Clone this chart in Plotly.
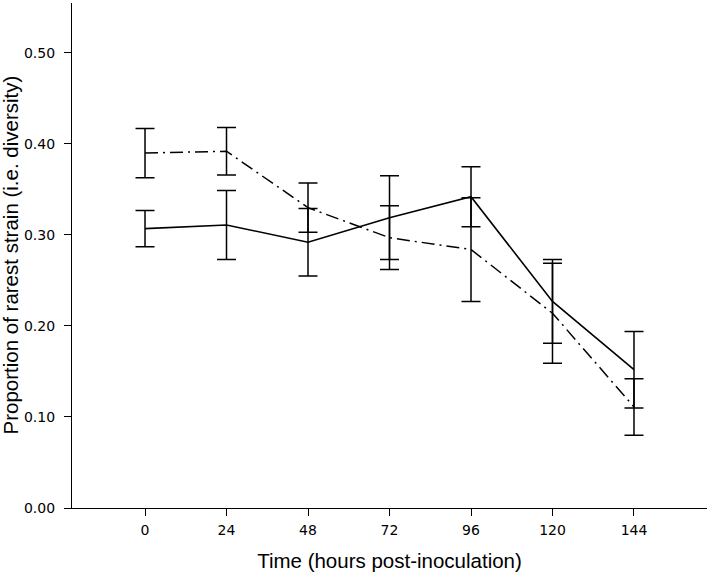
import plotly.graph_objects as go

hours = [0, 24, 48, 72, 96, 120, 144]
tick_labels = ["0", "24", "48", "72", "96", "120", "144"]

solid_mean = [0.307, 0.311, 0.292, 0.319, 0.342, 0.227, 0.152]
solid_err = [0.020, 0.038, 0.037, 0.046, 0.033, 0.046, 0.042]

dash_mean = [0.390, 0.392, 0.330, 0.297, 0.284, 0.214, 0.111]
dash_err = [0.027, 0.026, 0.027, 0.035, 0.057, 0.055, 0.031]

y_ticks = [0.0, 0.1, 0.2, 0.3, 0.4, 0.5]
y_tick_labels = ["0.00", "0.10", "0.20", "0.30", "0.40", "0.50"]

y_title = "Proportion of rarest strain (i.e. diversity)"
x_title = "Time (hours post-inoculation)"

fig = go.Figure()

fig.add_trace(go.Scatter(
    x=hours, y=dash_mean, mode="lines",
    line=dict(color="black", width=1.5, dash="13px,5px,2px,5px"),
    error_y=dict(type="data", array=dash_err, visible=True, color="black",
                 thickness=1.5, width=9.5),
    showlegend=False,
))
fig.add_trace(go.Scatter(
    x=hours, y=solid_mean, mode="lines",
    line=dict(color="black", width=1.6),
    error_y=dict(type="data", array=solid_err, visible=True, color="black",
                 thickness=1.5, width=9.5),
    showlegend=False,
))

fig.add_annotation(
    text=y_title, xref="paper", yref="paper", x=0, y=0.5,
    xanchor="center", yanchor="middle", xshift=-62, textangle=-90,
    showarrow=False, font=dict(family="Liberation Sans", size=20.5, color="black"),
)

fig.update_layout(
    width=709, height=574,
    margin=dict(l=72, r=2, t=3, b=65.5, autoexpand=False),
    paper_bgcolor="white", plot_bgcolor="white",
    font=dict(family="DejaVu Sans", color="black"),
    xaxis=dict(
        range=[-21.5, 165.5], tickmode="array", tickvals=hours, ticktext=tick_labels,
        showgrid=False, zeroline=False, showline=True, linecolor="black", linewidth=1.3,
        ticks="outside", ticklen=7, tickwidth=1.3, tickcolor="black",
        tickfont=dict(family="DejaVu Sans", size=14), automargin=False,
        ticklabelstandoff=2,
        title=dict(text=x_title,
                   font=dict(family="Liberation Sans", size=20.5), standoff=16),
    ),
    yaxis=dict(
        range=[0, 0.5549], tickmode="array", tickvals=y_ticks, ticktext=y_tick_labels,
        showgrid=False, zeroline=False, showline=True, linecolor="black", linewidth=1.3,
        ticks="outside", ticklen=7, tickwidth=1.3, tickcolor="black",
        tickfont=dict(family="DejaVu Sans", size=14), automargin=False,
        ticklabelstandoff=6,
    ),
)

fig.write_html("out.html", config={"displayModeBar": False},
               post_script="document.body.style.margin='0px';")
